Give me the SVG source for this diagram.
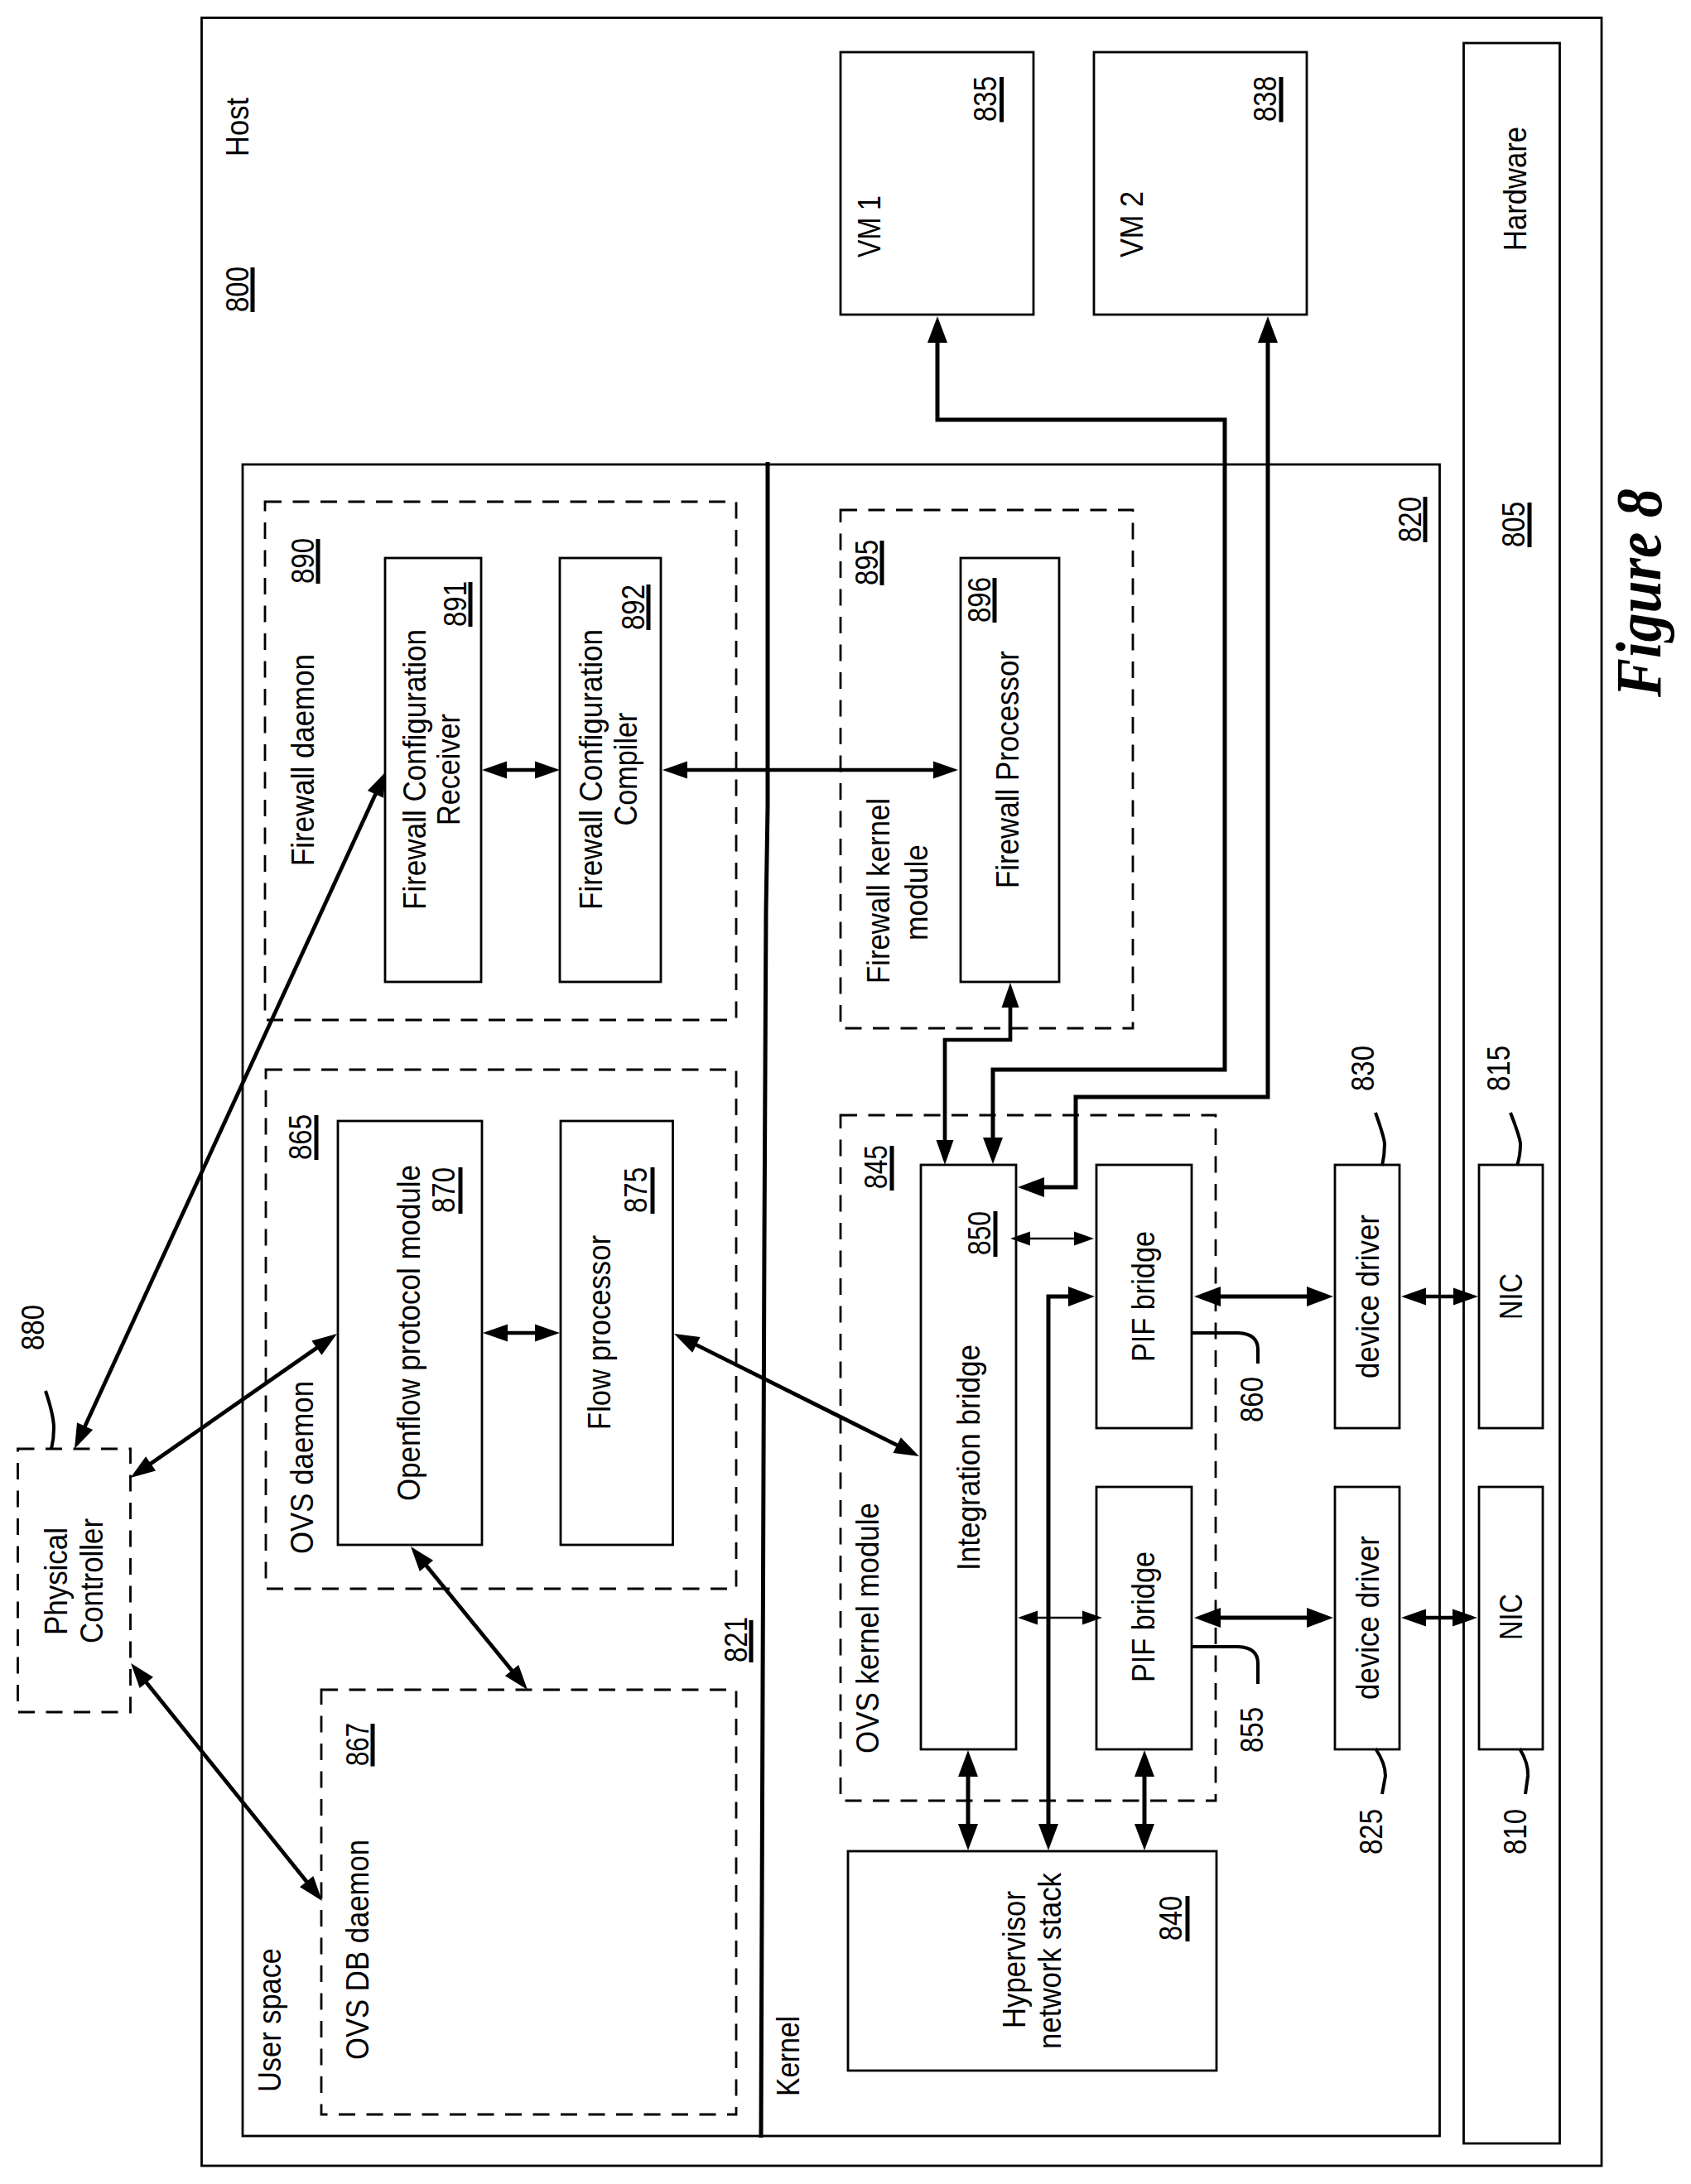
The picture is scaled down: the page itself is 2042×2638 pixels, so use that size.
<svg xmlns="http://www.w3.org/2000/svg" width="2042" height="2638" viewBox="0 0 2042 2638">
<style>
text{font-family:"Liberation Sans",Arial,sans-serif;font-size:39px;fill:#000}
.fig{font-family:"Liberation Serif","Times New Roman",serif;font-size:78px;font-weight:bold;font-style:italic}
rect{fill:none;stroke:#000;stroke-width:2.8}
.d{stroke-dasharray:20 13.5}
.u{stroke:#000;stroke-width:5;fill:none}
.big,.mid,.thin,.lead{fill:none;stroke:#000;stroke-linejoin:miter}
.big{stroke-width:5;marker-start:url(#mb);marker-end:url(#mb)}
.mid{stroke-width:4.7;marker-start:url(#mm);marker-end:url(#mm)}
.thin{stroke-width:2.6;marker-start:url(#mt);marker-end:url(#mt)}
.lead{stroke-width:4}
.div{fill:none;stroke:#000;stroke-width:5}
</style>
<defs>
<marker id="mb" markerUnits="userSpaceOnUse" markerWidth="34" markerHeight="26" refX="22" refY="12" orient="auto-start-reverse" overflow="visible"><path d="M0 0L32 12L0 24Z" fill="#000"/></marker>
<marker id="mm" markerUnits="userSpaceOnUse" markerWidth="32" markerHeight="23" refX="20" refY="10.5" orient="auto-start-reverse" overflow="visible"><path d="M0 0L30 10.5L0 21Z" fill="#000"/></marker>
<marker id="mt" markerUnits="userSpaceOnUse" markerWidth="26" markerHeight="19" refX="16" refY="8.5" orient="auto-start-reverse" overflow="visible"><path d="M0 0L24 8.5L0 17Z" fill="#000"/></marker>
</defs>
<rect x="0" y="0" width="2042" height="2638" style="fill:#fff;stroke:none"/>
<g id="host"><rect x="243.5" y="21.5" width="1690.5" height="2594.5"/>
<text transform="translate(300 189) rotate(-90)" textLength="71" lengthAdjust="spacingAndGlyphs">Host</text>
<text transform="translate(300 377) rotate(-90)" textLength="55" lengthAdjust="spacingAndGlyphs">800</text><line class="u" x1="305" y1="377" x2="305" y2="323"/></g>
<g id="kernel-user-box"><rect x="293" y="561" width="1445.500" height="2019"/>
<path class="div" d="M927 558V975L925 1100L923 1500L919 2582"/>
<text transform="translate(1716 655) rotate(-90)" textLength="55" lengthAdjust="spacingAndGlyphs">820</text><line class="u" x1="1721" y1="655" x2="1721" y2="600"/>
<text transform="translate(902 2008) rotate(-90)" textLength="55" lengthAdjust="spacingAndGlyphs">821</text><line class="u" x1="907" y1="2008" x2="907" y2="1957"/>
<text transform="translate(338.500 2527) rotate(-90)" textLength="174" lengthAdjust="spacingAndGlyphs">User space</text>
<text transform="translate(965 2532) rotate(-90)" textLength="97" lengthAdjust="spacingAndGlyphs">Kernel</text></g>
<g id="hardware"><rect x="1767.500" y="52" width="116" height="2537"/>
<text transform="translate(1843 303) rotate(-90)" textLength="150" lengthAdjust="spacingAndGlyphs">Hardware</text>
<text transform="translate(1841 661) rotate(-90)" textLength="55" lengthAdjust="spacingAndGlyphs">805</text><line class="u" x1="1847" y1="661" x2="1847" y2="607"/></g>
<g id="vm1"><rect x="1015" y="63" width="233" height="317"/>
<text transform="translate(1063 311) rotate(-90)" textLength="75" lengthAdjust="spacingAndGlyphs">VM 1</text>
<text transform="translate(1203 147) rotate(-90)" textLength="55" lengthAdjust="spacingAndGlyphs">835</text><line class="u" x1="1209.500" y1="147.500" x2="1209.500" y2="93"/></g>
<g id="vm2"><rect x="1321" y="63" width="257" height="317"/>
<text transform="translate(1380 311) rotate(-90)" textLength="80" lengthAdjust="spacingAndGlyphs">VM 2</text>
<text transform="translate(1541 147) rotate(-90)" textLength="55" lengthAdjust="spacingAndGlyphs">838</text><line class="u" x1="1547" y1="147.500" x2="1547" y2="93"/></g>
<g id="firewall-daemon"><rect class="d" x="320" y="606" width="569" height="626"/>
<text transform="translate(379 1046) rotate(-90)" textLength="256" lengthAdjust="spacingAndGlyphs">Firewall daemon</text>
<text transform="translate(379 705) rotate(-90)" textLength="55" lengthAdjust="spacingAndGlyphs">890</text><line class="u" x1="384" y1="705" x2="384" y2="651"/></g>
<g id="fw-receiver"><rect x="465" y="674" width="116" height="512"/>
<text transform="translate(514 1099) rotate(-90)" textLength="339" lengthAdjust="spacingAndGlyphs">Firewall Configuration</text>
<text transform="translate(555 997) rotate(-90)" textLength="135" lengthAdjust="spacingAndGlyphs">Receiver</text>
<text transform="translate(563 757) rotate(-90)" textLength="55" lengthAdjust="spacingAndGlyphs">891</text><line class="u" x1="568" y1="757" x2="568" y2="703"/></g>
<g id="fw-compiler"><rect x="676" y="674" width="122" height="512"/>
<text transform="translate(727 1099) rotate(-90)" textLength="339" lengthAdjust="spacingAndGlyphs">Firewall Configuration</text>
<text transform="translate(769 997.500) rotate(-90)" textLength="137" lengthAdjust="spacingAndGlyphs">Compiler</text>
<text transform="translate(778 761) rotate(-90)" textLength="55" lengthAdjust="spacingAndGlyphs">892</text><line class="u" x1="783" y1="761" x2="783" y2="706"/></g>
<g id="fw-kernel-module"><rect class="d" x="1015" y="616" width="353" height="626"/>
<text transform="translate(1074 1188) rotate(-90)" textLength="224" lengthAdjust="spacingAndGlyphs">Firewall kernel</text>
<text transform="translate(1120 1136) rotate(-90)" textLength="116" lengthAdjust="spacingAndGlyphs">module</text>
<text transform="translate(1060 707) rotate(-90)" textLength="55" lengthAdjust="spacingAndGlyphs">895</text><line class="u" x1="1065" y1="707" x2="1065" y2="653"/></g>
<g id="fw-processor"><rect x="1160" y="674" width="119" height="512"/>
<text transform="translate(1230 1073) rotate(-90)" textLength="287" lengthAdjust="spacingAndGlyphs">Firewall Processor</text>
<text transform="translate(1196 752) rotate(-90)" textLength="55" lengthAdjust="spacingAndGlyphs">896</text><line class="u" x1="1201" y1="752" x2="1201" y2="698"/></g>
<g id="ovs-daemon"><rect class="d" x="321" y="1292" width="568" height="627"/>
<text transform="translate(378 1877) rotate(-90)" textLength="209" lengthAdjust="spacingAndGlyphs">OVS daemon</text>
<text transform="translate(376 1401) rotate(-90)" textLength="55" lengthAdjust="spacingAndGlyphs">865</text><line class="u" x1="382" y1="1401" x2="382" y2="1347"/></g>
<g id="openflow"><rect x="408" y="1354" width="174" height="512"/>
<text transform="translate(507 1813) rotate(-90)" textLength="406" lengthAdjust="spacingAndGlyphs">Openflow protocol module</text>
<text transform="translate(549 1465) rotate(-90)" textLength="55" lengthAdjust="spacingAndGlyphs">870</text><line class="u" x1="556" y1="1466" x2="556" y2="1410"/></g>
<g id="flow-processor"><rect x="677" y="1354" width="135.500" height="512"/>
<text transform="translate(737 1727) rotate(-90)" textLength="235" lengthAdjust="spacingAndGlyphs">Flow processor</text>
<text transform="translate(781 1465) rotate(-90)" textLength="55" lengthAdjust="spacingAndGlyphs">875</text><line class="u" x1="788" y1="1466" x2="788" y2="1410"/></g>
<g id="ovs-db"><rect class="d" x="388" y="2041" width="501" height="513"/>
<text transform="translate(445 2488) rotate(-90)" textLength="266" lengthAdjust="spacingAndGlyphs">OVS DB daemon</text>
<text transform="translate(445 2133) rotate(-90)" textLength="52" lengthAdjust="spacingAndGlyphs">867</text><line class="u" x1="450" y1="2133.500" x2="450" y2="2082"/></g>
<g id="physical-controller"><rect class="d" x="21.500" y="1750" width="136" height="318"/>
<text transform="translate(81 1975) rotate(-90)" textLength="130" lengthAdjust="spacingAndGlyphs">Physical</text>
<text transform="translate(124 1985) rotate(-90)" textLength="151" lengthAdjust="spacingAndGlyphs">Controller</text>
<text transform="translate(53 1631) rotate(-90)" textLength="55" lengthAdjust="spacingAndGlyphs">880</text></g>
<g id="ovs-kernel-module"><rect class="d" x="1015" y="1347" width="453" height="828"/>
<text transform="translate(1061 2118) rotate(-90)" textLength="303" lengthAdjust="spacingAndGlyphs">OVS kernel module</text>
<text transform="translate(1071 1436) rotate(-90)" textLength="53" lengthAdjust="spacingAndGlyphs">845</text><line class="u" x1="1077" y1="1438" x2="1077" y2="1384"/></g>
<g id="integration-bridge"><rect x="1112" y="1407" width="115" height="706"/>
<text transform="translate(1182.500 1897) rotate(-90)" textLength="273" lengthAdjust="spacingAndGlyphs">Integration bridge</text>
<text transform="translate(1196 1516) rotate(-90)" textLength="53" lengthAdjust="spacingAndGlyphs">850</text><line class="u" x1="1202" y1="1518" x2="1202" y2="1463"/></g>
<g id="pif-860"><rect x="1324" y="1407" width="115" height="318"/>
<text transform="translate(1394 1645) rotate(-90)" textLength="158" lengthAdjust="spacingAndGlyphs">PIF bridge</text>
<text transform="translate(1525 1718) rotate(-90)" textLength="55" lengthAdjust="spacingAndGlyphs">860</text></g>
<g id="pif-855"><rect x="1324" y="1796" width="115" height="317"/>
<text transform="translate(1394 2032) rotate(-90)" textLength="158" lengthAdjust="spacingAndGlyphs">PIF bridge</text>
<text transform="translate(1525 2117) rotate(-90)" textLength="55" lengthAdjust="spacingAndGlyphs">855</text></g>
<g id="driver-830"><rect x="1612" y="1407" width="78" height="318"/>
<text transform="translate(1665 1665) rotate(-90)" textLength="198" lengthAdjust="spacingAndGlyphs">device driver</text>
<text transform="translate(1659 1318) rotate(-90)" textLength="55" lengthAdjust="spacingAndGlyphs">830</text></g>
<g id="driver-825"><rect x="1612" y="1796" width="78" height="317"/>
<text transform="translate(1665 2053) rotate(-90)" textLength="198" lengthAdjust="spacingAndGlyphs">device driver</text>
<text transform="translate(1669 2240) rotate(-90)" textLength="55" lengthAdjust="spacingAndGlyphs">825</text></g>
<g id="nic-815"><rect x="1786" y="1407" width="77" height="318"/>
<text transform="translate(1838 1594) rotate(-90)" textLength="56" lengthAdjust="spacingAndGlyphs">NIC</text>
<text transform="translate(1823 1318) rotate(-90)" textLength="55" lengthAdjust="spacingAndGlyphs">815</text></g>
<g id="nic-810"><rect x="1786" y="1796" width="77" height="317"/>
<text transform="translate(1838 1981) rotate(-90)" textLength="56" lengthAdjust="spacingAndGlyphs">NIC</text>
<text transform="translate(1843 2240) rotate(-90)" textLength="55" lengthAdjust="spacingAndGlyphs">810</text></g>
<g id="hypervisor-stack"><rect x="1024" y="2236" width="445" height="265"/>
<text transform="translate(1238 2450) rotate(-90)" textLength="166" lengthAdjust="spacingAndGlyphs">Hypervisor</text>
<text transform="translate(1281 2475) rotate(-90)" textLength="213" lengthAdjust="spacingAndGlyphs">network stack</text>
<text transform="translate(1427 2344) rotate(-90)" textLength="54" lengthAdjust="spacingAndGlyphs">840</text><line class="u" x1="1434" y1="2345" x2="1434" y2="2290"/></g>
<g id="connectors">
<line class="mid" x1="94.200" y1="1740.900" x2="461.800" y2="941.100"/>
<line class="mid" x1="165.700" y1="1779.300" x2="398.800" y2="1616.700"/>
<line class="mid" x1="502.300" y1="1875.800" x2="630.700" y2="2033.200"/>
<line class="mid" x1="164.300" y1="2016.800" x2="382.700" y2="2288.200"/>
<line class="mid" x1="823" y1="1615.500" x2="1101" y2="1754.500"/>
<line class="mid" x1="592" y1="930" x2="666" y2="930"/>
<line class="mid" x1="810" y1="930" x2="1147" y2="930"/>
<line class="mid" x1="593" y1="1610" x2="666" y2="1610"/>
<path class="mid" d="M1220 1197V1256H1141V1397"/>
<path class="big" d="M1132 392V507H1479V1292H1199V1396"/>
<path class="big" d="M1531 392V1325H1299V1434H1239"/>
<path class="big" d="M1266 2225V1566H1312"/>
<line class="big" x1="1452" y1="1566" x2="1600" y2="1566"/>
<line class="big" x1="1452" y1="1954" x2="1600" y2="1954"/>
<line class="mid" x1="1702" y1="1566" x2="1775" y2="1566"/>
<line class="mid" x1="1702" y1="1954" x2="1774" y2="1954"/>
<line class="thin" x1="1228" y1="1496" x2="1313" y2="1496"/>
<line class="thin" x1="1237" y1="1954" x2="1323" y2="1954"/>
<line class="big" x1="1169" y1="2124" x2="1169" y2="2225"/>
<line class="big" x1="1382" y1="2124" x2="1382" y2="2225"/>
<path class="lead" d="M1439 1610H1495Q1519 1611 1519 1630V1647"/>
<path class="lead" d="M1439 1989H1495Q1519 1990 1519 2009V2034"/>
<path class="lead" d="M1661 1344Q1672 1375 1672 1382Q1672 1395 1669 1408"/>
<path class="lead" d="M1824 1344Q1836 1375 1836 1382Q1836 1395 1832 1408"/>
<path class="lead" d="M1661 2112Q1673 2130 1673 2145L1669 2167"/>
<path class="lead" d="M1835 2112Q1846 2130 1845 2145L1842 2167"/>
<path class="lead" d="M55 1680Q65 1710 65 1725Q65 1738 62 1750"/>
</g>
<text class="fig" transform="translate(2005 842) rotate(-90)" textLength="252" lengthAdjust="spacingAndGlyphs">Figure 8</text>
</svg>
